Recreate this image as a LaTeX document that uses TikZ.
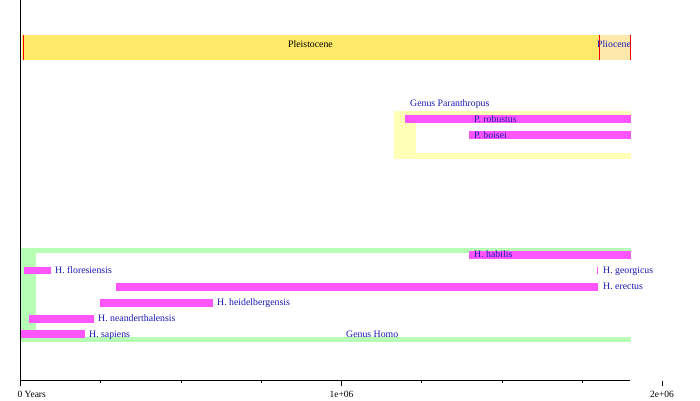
\documentclass[tikz,border=0pt]{standalone}
\usepackage{fontspec}
\setmainfont{Liberation Serif}
\definecolor{pleisto}{RGB}{254,233,104}
\definecolor{plio}{RGB}{254,232,172}
\definecolor{paran}{RGB}{255,255,184}
\definecolor{homo}{RGB}{182,255,180}
\definecolor{inner}{RGB}{255,255,255}
\definecolor{bar}{RGB}{255,85,255}
\definecolor{txtblue}{RGB}{25,25,180}
\tikzset{
  lbl/.style={font=\fontsize{9.8}{11}\selectfont, text=txtblue, anchor=base west, inner sep=0pt},
  axlbl/.style={font=\fontsize{9.5}{11}\selectfont, text=black, anchor=base, inner sep=0pt},
  spbar/.style={fill=bar},
  ax/.style={line width=1pt, black},
  epochline/.style={red, line width=0.9pt}
}
\begin{document}
\begin{tikzpicture}[x=1pt,y=-1pt]
\useasboundingbox (0,0) rectangle (700,400);
% epochs
\fill[pleisto] (22,35) rectangle (599,60);
\fill[plio] (599,35) rectangle (630.5,60);
\draw[epochline] (23,35) -- (23,60);
\draw[epochline] (599,35) -- (599,60);
\draw[epochline] (630.5,35) -- (630.5,60);
\node[lbl, text=black] (pleis) at (288,47.5) {Pleistocene};
\node[lbl] (plioc) at (597,47.5) {Pliocene};
% Paranthropus
\fill[paran] (394,111) rectangle (631,159);
\fill[inner] (416,123) rectangle (631,153);
\fill[spbar] (405,115) rectangle (631,123);
\fill[spbar] (469,131) rectangle (631,139);
\node[lbl] (gparan) at (410,106) {Genus Paranthropus};
\node[lbl] (robus) at (474,122.5) {P. robustus};
\node[lbl] (boisei) at (474,138) {P. boisei};
% Homo
\fill[homo] (20.5,248) rectangle (631,342);
\fill[inner] (36,253) rectangle (631,337);
\fill[spbar] (469,251) rectangle (631,259);
\fill[spbar] (24,267) rectangle (51,274);
\fill[spbar] (596.8,267) rectangle (597.6,274);
\fill[spbar] (116,283) rectangle (598,291);
\fill[spbar] (100,299) rectangle (213,307);
\fill[spbar] (29,315) rectangle (94,323);
\fill[spbar] (21,330) rectangle (85,338);
\node[lbl] (habilis) at (474,257.5) {H. habilis};
\node[lbl] (flores) at (55,273.5) {H. floresiensis};
\node[lbl] (georg) at (603,273.5) {H. georgicus};
\node[lbl] (erect) at (603,289.5) {H. erectus};
\node[lbl] (heidel) at (217,305.5) {H. heidelbergensis};
\node[lbl] (neand) at (98,321.5) {H. neanderthalensis};
\node[lbl] (sapiens) at (89,337) {H. sapiens};
\node[lbl] (ghomo) at (346,337.5) {Genus Homo};
% axes
\coordinate (top) at (20.5,0);
\coordinate (origin) at (20.5,380.5);
\coordinate (axend) at (630,380.5);
\draw[ax] (top) -- (origin) -- (axend);
\draw[ax] (20.5,380.5) -- (20.5,385.5);
\foreach \xx in {100.75,181,261.25,421.75,502,582.25} \draw[line width=0.8pt] (\xx,380.5) -- (\xx,383);
\draw[ax] (341.5,380.5) -- (341.5,385.5);
\draw[ax] (662,381) -- (662,385.5);
\node[axlbl, anchor=base west] (zero) at (17.3,397.5) {0 Years};
\node[axlbl] (onem) at (341.5,397.5) {1e+06};
\node[axlbl] (twom) at (662,397.5) {2e+06};
\end{tikzpicture}
\end{document}
